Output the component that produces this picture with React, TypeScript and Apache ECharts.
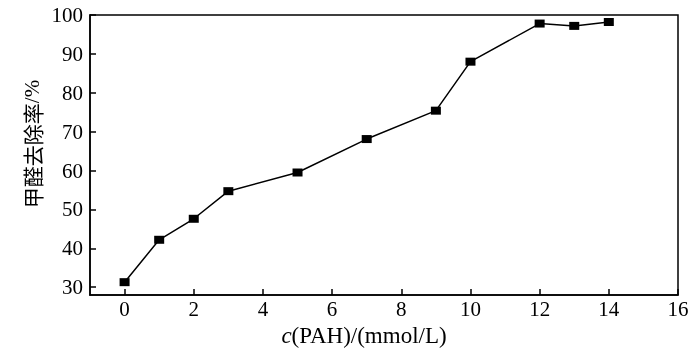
import React, { useEffect, useRef } from "react";
import * as echarts from "echarts";

const xValues = [0, 1, 2, 3, 5, 7, 9, 10, 12, 13, 14];
const yValues = [31.3, 42.2, 47.6, 54.7, 59.5, 68.1, 75.4, 88.0, 97.8, 97.2, 98.2];
const xTicks = [0, 2, 4, 6, 8, 10, 12, 14, 16];
const yTicks = [30, 40, 50, 60, 70, 80, 90, 100];
const xAxisTitle = ["c", "(PAH)/(mmol/L)"];
const yAxisTitle = ["甲醛去除率", "/%"];

export default function App() {
  const ref = useRef<HTMLDivElement>(null);
  useEffect(() => {
    if (!ref.current) return;
    const chart = echarts.init(ref.current, undefined, { renderer: "svg" });
    const serif = "Liberation Serif";
    const cjk = "Noto Sans CJK SC";
    chart.setOption({
      animation: false,
      grid: {
        left: 90,
        right: 22,
        top: 15,
        bottom: 54,
        show: true,
        borderColor: "#000",
        borderWidth: 1.5,
      },
      xAxis: {
        type: "value",
        min: -1,
        max: 16,
        axisLine: { show: true, onZero: false, lineStyle: { color: "#000", width: 1.5 } },
        axisTick: {
          show: true,
          inside: true,
          length: 6,
          customValues: xTicks,
          lineStyle: { color: "#000", width: 1.5 },
        },
        axisLabel: {
          color: "#000",
          fontFamily: serif,
          fontSize: 21,
          margin: 3,
          customValues: xTicks,
        },
        splitLine: { show: false },
      },
      yAxis: {
        type: "value",
        min: 28,
        max: 100,
        axisLine: { show: true, onZero: false, lineStyle: { color: "#000", width: 1.5 } },
        axisTick: {
          show: true,
          inside: true,
          length: 6,
          customValues: yTicks,
          lineStyle: { color: "#000", width: 1.5 },
        },
        axisLabel: {
          color: "#000",
          fontFamily: serif,
          fontSize: 21,
          margin: 7,
          customValues: yTicks,
        },
        splitLine: { show: false },
      },
      graphic: [
        {
          type: "text",
          x: 364,
          y: 335,
          style: {
            text: `{i|${xAxisTitle[0]}}{n|${xAxisTitle[1]}}`,
            align: "center",
            verticalAlign: "middle",
            fill: "#000",
            font: `23px ${serif}`,
            rich: {
              i: { fontStyle: "italic", fontFamily: serif, fontSize: 23, fill: "#000" },
              n: { fontFamily: serif, fontSize: 23, fill: "#000" },
            },
          },
        },
        {
          type: "text",
          x: 32,
          y: 144,
          rotation: Math.PI / 2,
          style: {
            text: `{c|${yAxisTitle[0]}}{s|${yAxisTitle[1]}}`,
            align: "center",
            verticalAlign: "middle",
            fill: "#000",
            font: `21px ${cjk}`,
            rich: {
              c: { fontFamily: cjk, fontSize: 21, fill: "#000" },
              s: { fontFamily: serif, fontSize: 21, fill: "#000" },
            },
          },
        },
      ],
      series: [
        {
          type: "line",
          data: xValues.map((x, i) => [x, yValues[i]]),
          symbol: "rect",
          symbolSize: [10, 8],
          itemStyle: { color: "#000" },
          lineStyle: { color: "#000", width: 1.5 },
        },
      ],
    });
    return () => chart.dispose();
  }, []);
  return (
    <div
      ref={ref}
      style={{ position: "fixed", left: 0, top: 0, width: 700, height: 349 }}
    />
  );
}
